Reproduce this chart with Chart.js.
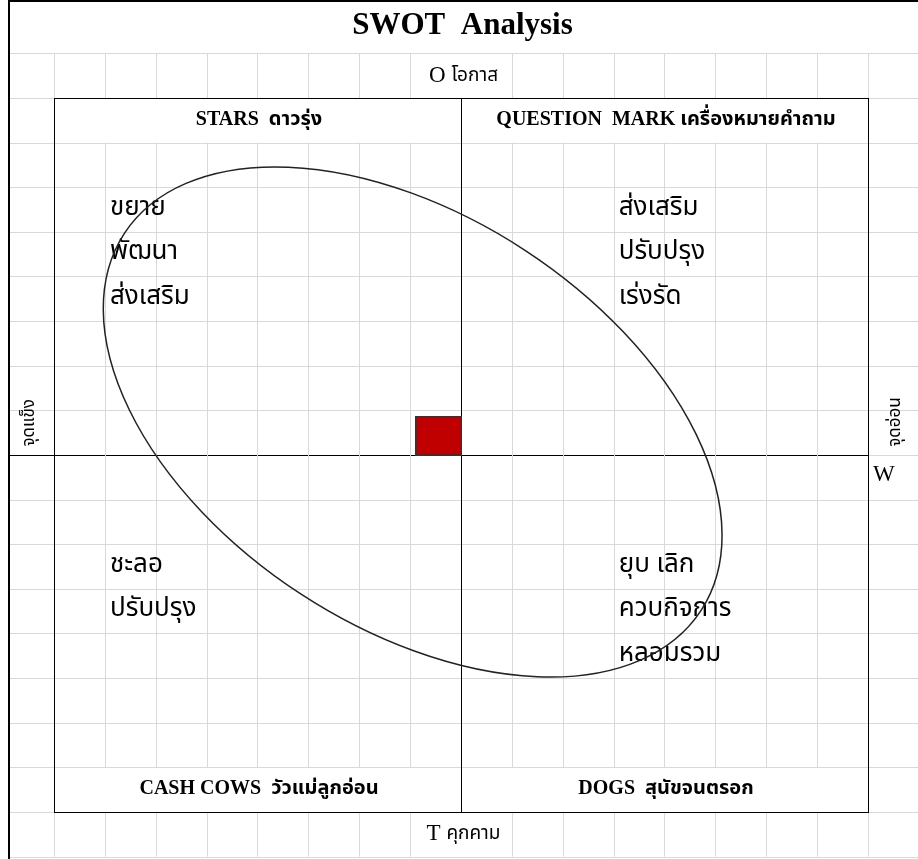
<!DOCTYPE html>
<html>
<head>
<meta charset="utf-8">
<script src="https://cdn.jsdelivr.net/npm/chart.js@4"></script>
<style>
  html, body { margin: 0; padding: 0; background: #fff; }
  canvas { display: block; }
</style>
</head>
<body>
<canvas id="swotChart" width="918" height="859"></canvas>
<script>
// sheet grid: 16 columns x 16 rows inside the box, one extra row above/below
const columns = [0, 1, 2, 3, 4, 5, 6, 7, 8, 9, 10, 11, 12, 13, 14, 15, 16];
const rows = [-1, 0, 1, 2, 3, 4, 5, 6, 7, 8, 9, 10, 11, 12, 13, 14, 15, 16, 17];

const chartTitle = 'SWOT  Analysis';
const quadrantTitles = ['STARS  ดาวรุ่ง', 'QUESTION  MARK เครื่องหมายคำถาม', 'CASH COWS  วัวแม่ลูกอ่อน', 'DOGS  สุนัขจนตรอก'];
const starsActions = ['ขยาย', 'พัฒนา', 'ส่งเสริม'];
const questionActions = ['ส่งเสริม', 'ปรับปรุง', 'เร่งรัด'];
const cashCowActions = ['ชะลอ', 'ปรับปรุง'];
const dogActions = ['ยุบ เลิก', 'ควบกิจการ', 'หลอมรวม'];
const axisNames = ['O', 'โอกาส', 'T', 'คุกคาม', 'W', 'จุดอ่อน', 'จุดแข็ง'];

// current position of the business (red marker)
const positionX = [7.565];
const positionY = [8.435];

// ellipse drawn round the strategy zone (centre in grid units, angle in degrees)
const zoneCentre = [7.05, 8.74];
const zoneAngle = 33.2;

const SERIF = '"Liberation Serif", "Times New Roman", serif';
const THAI = 'Tahoma, "Noto Sans Thai", "Loma", "Garuda", "DejaVu Sans", sans-serif';

const marker = document.createElement('canvas');
marker.width = 47;
marker.height = 40;
(function () {
  const m = marker.getContext('2d');
  m.fillStyle = '#c00000';
  m.fillRect(0, 0, 47, 40);
  m.strokeStyle = '#333';
  m.lineWidth = 1.5;
  m.strokeRect(0.75, 0.75, 45.5, 38.5);
})();

function px(chart, u) { return chart.scales.x.getPixelForValue(u); }
function py(chart, v) { return chart.scales.y.getPixelForValue(v); }

function hLine(ctx, x1, x2, y, color, w) {
  ctx.strokeStyle = color;
  ctx.lineWidth = w;
  ctx.beginPath();
  ctx.moveTo(x1, Math.round(y) + 0.5);
  ctx.lineTo(x2, Math.round(y) + 0.5);
  ctx.stroke();
}
function vLine(ctx, x, y1, y2, color, w) {
  ctx.strokeStyle = color;
  ctx.lineWidth = w;
  ctx.beginPath();
  ctx.moveTo(Math.round(x) + 0.5, y1);
  ctx.lineTo(Math.round(x) + 0.5, y2);
  ctx.stroke();
}

const sheetPlugin = {
  id: 'sheet',
  beforeDatasetsDraw(chart) {
    const ctx = chart.ctx;
    const W = chart.width, H = chart.height;
    const grey = '#d9d9d9';
    const left = 10;
    ctx.save();
    ctx.fillStyle = '#fff';
    ctx.fillRect(0, 0, W, H);

    // horizontal sheet lines
    rows.forEach((r) => {
      const y = py(chart, r);
      if (r === 8) {
        hLine(ctx, left, px(chart, 16), y, '#000', 1);
        hLine(ctx, px(chart, 16), W, y, grey, 1);
      } else if (r === 0 || r === 16) {
        hLine(ctx, left, px(chart, 0), y, grey, 1);
        hLine(ctx, px(chart, 16), W, y, grey, 1);
      } else {
        hLine(ctx, left, W, y, grey, 1);
      }
    });

    // vertical sheet lines
    columns.forEach((c) => {
      const x = px(chart, c);
      if (c === 8) return;
      // O and T rows
      vLine(ctx, x, py(chart, 17), py(chart, 16), grey, 1);
      vLine(ctx, x, py(chart, 0), py(chart, -1), grey, 1);
      if (c === 0 || c === 16) return;
      vLine(ctx, x, py(chart, 15), py(chart, 1), grey, 1);
    });

    // box and axes
    ctx.strokeStyle = '#000';
    ctx.lineWidth = 1;
    const x0 = Math.round(px(chart, 0)) + 0.5, x1 = Math.round(px(chart, 16)) + 0.5;
    const y0 = Math.round(py(chart, 16)) + 0.5, y1 = Math.round(py(chart, 0)) + 0.5;
    ctx.strokeRect(x0, y0, x1 - x0, y1 - y0);
    vLine(ctx, px(chart, 8), py(chart, 16), py(chart, 0), '#000', 1);

    // frame
    ctx.fillStyle = '#000';
    ctx.fillRect(left - 2, 0, 2, H);
    ctx.fillRect(left - 2, 0, W, 2);

    // texts
    ctx.fillStyle = '#000';
    ctx.textBaseline = 'middle';
    ctx.textAlign = 'center';
    ctx.font = 'bold 31px ' + SERIF;
    ctx.fillText(chartTitle, px(chart, 8.03), py(chart, 17.62));

    const pairLabel = (main, sub, u, v) => {
      ctx.font = '23px ' + SERIF;
      const w1 = ctx.measureText(main + ' ').width;
      ctx.font = '19px ' + THAI;
      const w2 = ctx.measureText(sub).width;
      let x = px(chart, u) - (w1 + w2) / 2;
      const y = py(chart, v);
      ctx.textAlign = 'left';
      ctx.font = '23px ' + SERIF;
      ctx.fillText(main, x, y);
      ctx.font = '19px ' + THAI;
      ctx.fillText(sub, x + w1, y + 1);
      ctx.textAlign = 'center';
    };
    pairLabel(axisNames[0], axisNames[1], 8.05, 16.5);
    pairLabel(axisNames[2], axisNames[3], 8.05, -0.5);

    ctx.font = 'bold 20px ' + SERIF + ', ' + THAI;
    ctx.fillText(quadrantTitles[0], px(chart, 4.03), py(chart, 15.52));
    ctx.fillText(quadrantTitles[1], px(chart, 12.03), py(chart, 15.52));
    ctx.fillText(quadrantTitles[2], px(chart, 4.03), py(chart, 0.52));
    ctx.fillText(quadrantTitles[3], px(chart, 12.03), py(chart, 0.52));

    ctx.textAlign = 'left';
    ctx.font = '26px ' + THAI;
    const block = (items, u, vTop) => {
      items.forEach((t, i) => ctx.fillText(t, px(chart, u), py(chart, vTop - i)));
    };
    block(starsActions, 1.1, 13.5);
    block(questionActions, 11.1, 13.5);
    block(cashCowActions, 1.1, 5.5);
    block(dogActions, 11.1, 5.5);

    ctx.font = '23px ' + SERIF;
    ctx.fillText(axisNames[4], px(chart, 16.1), py(chart, 7.55));

    ctx.font = '17px ' + THAI;
    ctx.textAlign = 'center';
    [[axisNames[5], 16.57, 8.74], [axisNames[6], -0.47, 8.72]].forEach(([t, u, v]) => {
      ctx.save();
      ctx.translate(px(chart, u), py(chart, v));
      ctx.rotate(-Math.PI / 2);
      ctx.fillText(t, 0, 0);
      ctx.restore();
    });
    ctx.restore();
  },
  afterDatasetsDraw(chart) {
    const ctx = chart.ctx;
    ctx.save();
    ctx.strokeStyle = '#222';
    ctx.lineWidth = 1.5;
    ctx.beginPath();
    ctx.ellipse(px(chart, zoneCentre[0]), py(chart, zoneCentre[1]), 344.5, 205.2,
      zoneAngle * Math.PI / 180, 0, Math.PI * 2);
    ctx.stroke();
    ctx.restore();
  }
};

const ctx = document.getElementById('swotChart').getContext('2d');
new Chart(ctx, {
  type: 'scatter',
  data: {
    datasets: [
      {
        label: 'Position',
        data: positionX.map((x, i) => ({ x: x, y: positionY[i] })),
        pointStyle: marker,
        pointRadius: 20,
        pointHoverRadius: 20,
      },
    ],
  },
  options: {
    responsive: false,
    animation: false,
    layout: { padding: 0, autoPadding: false },
    plugins: { legend: { display: false }, tooltip: { enabled: false } },
    scales: {
      x: { type: 'linear', display: false, min: -1.0614, max: 16.983 },
      y: { type: 'linear', display: false, min: -1.0532, max: 18.196 },
    },
  },
  plugins: [sheetPlugin],
});
</script>
</body>
</html>
